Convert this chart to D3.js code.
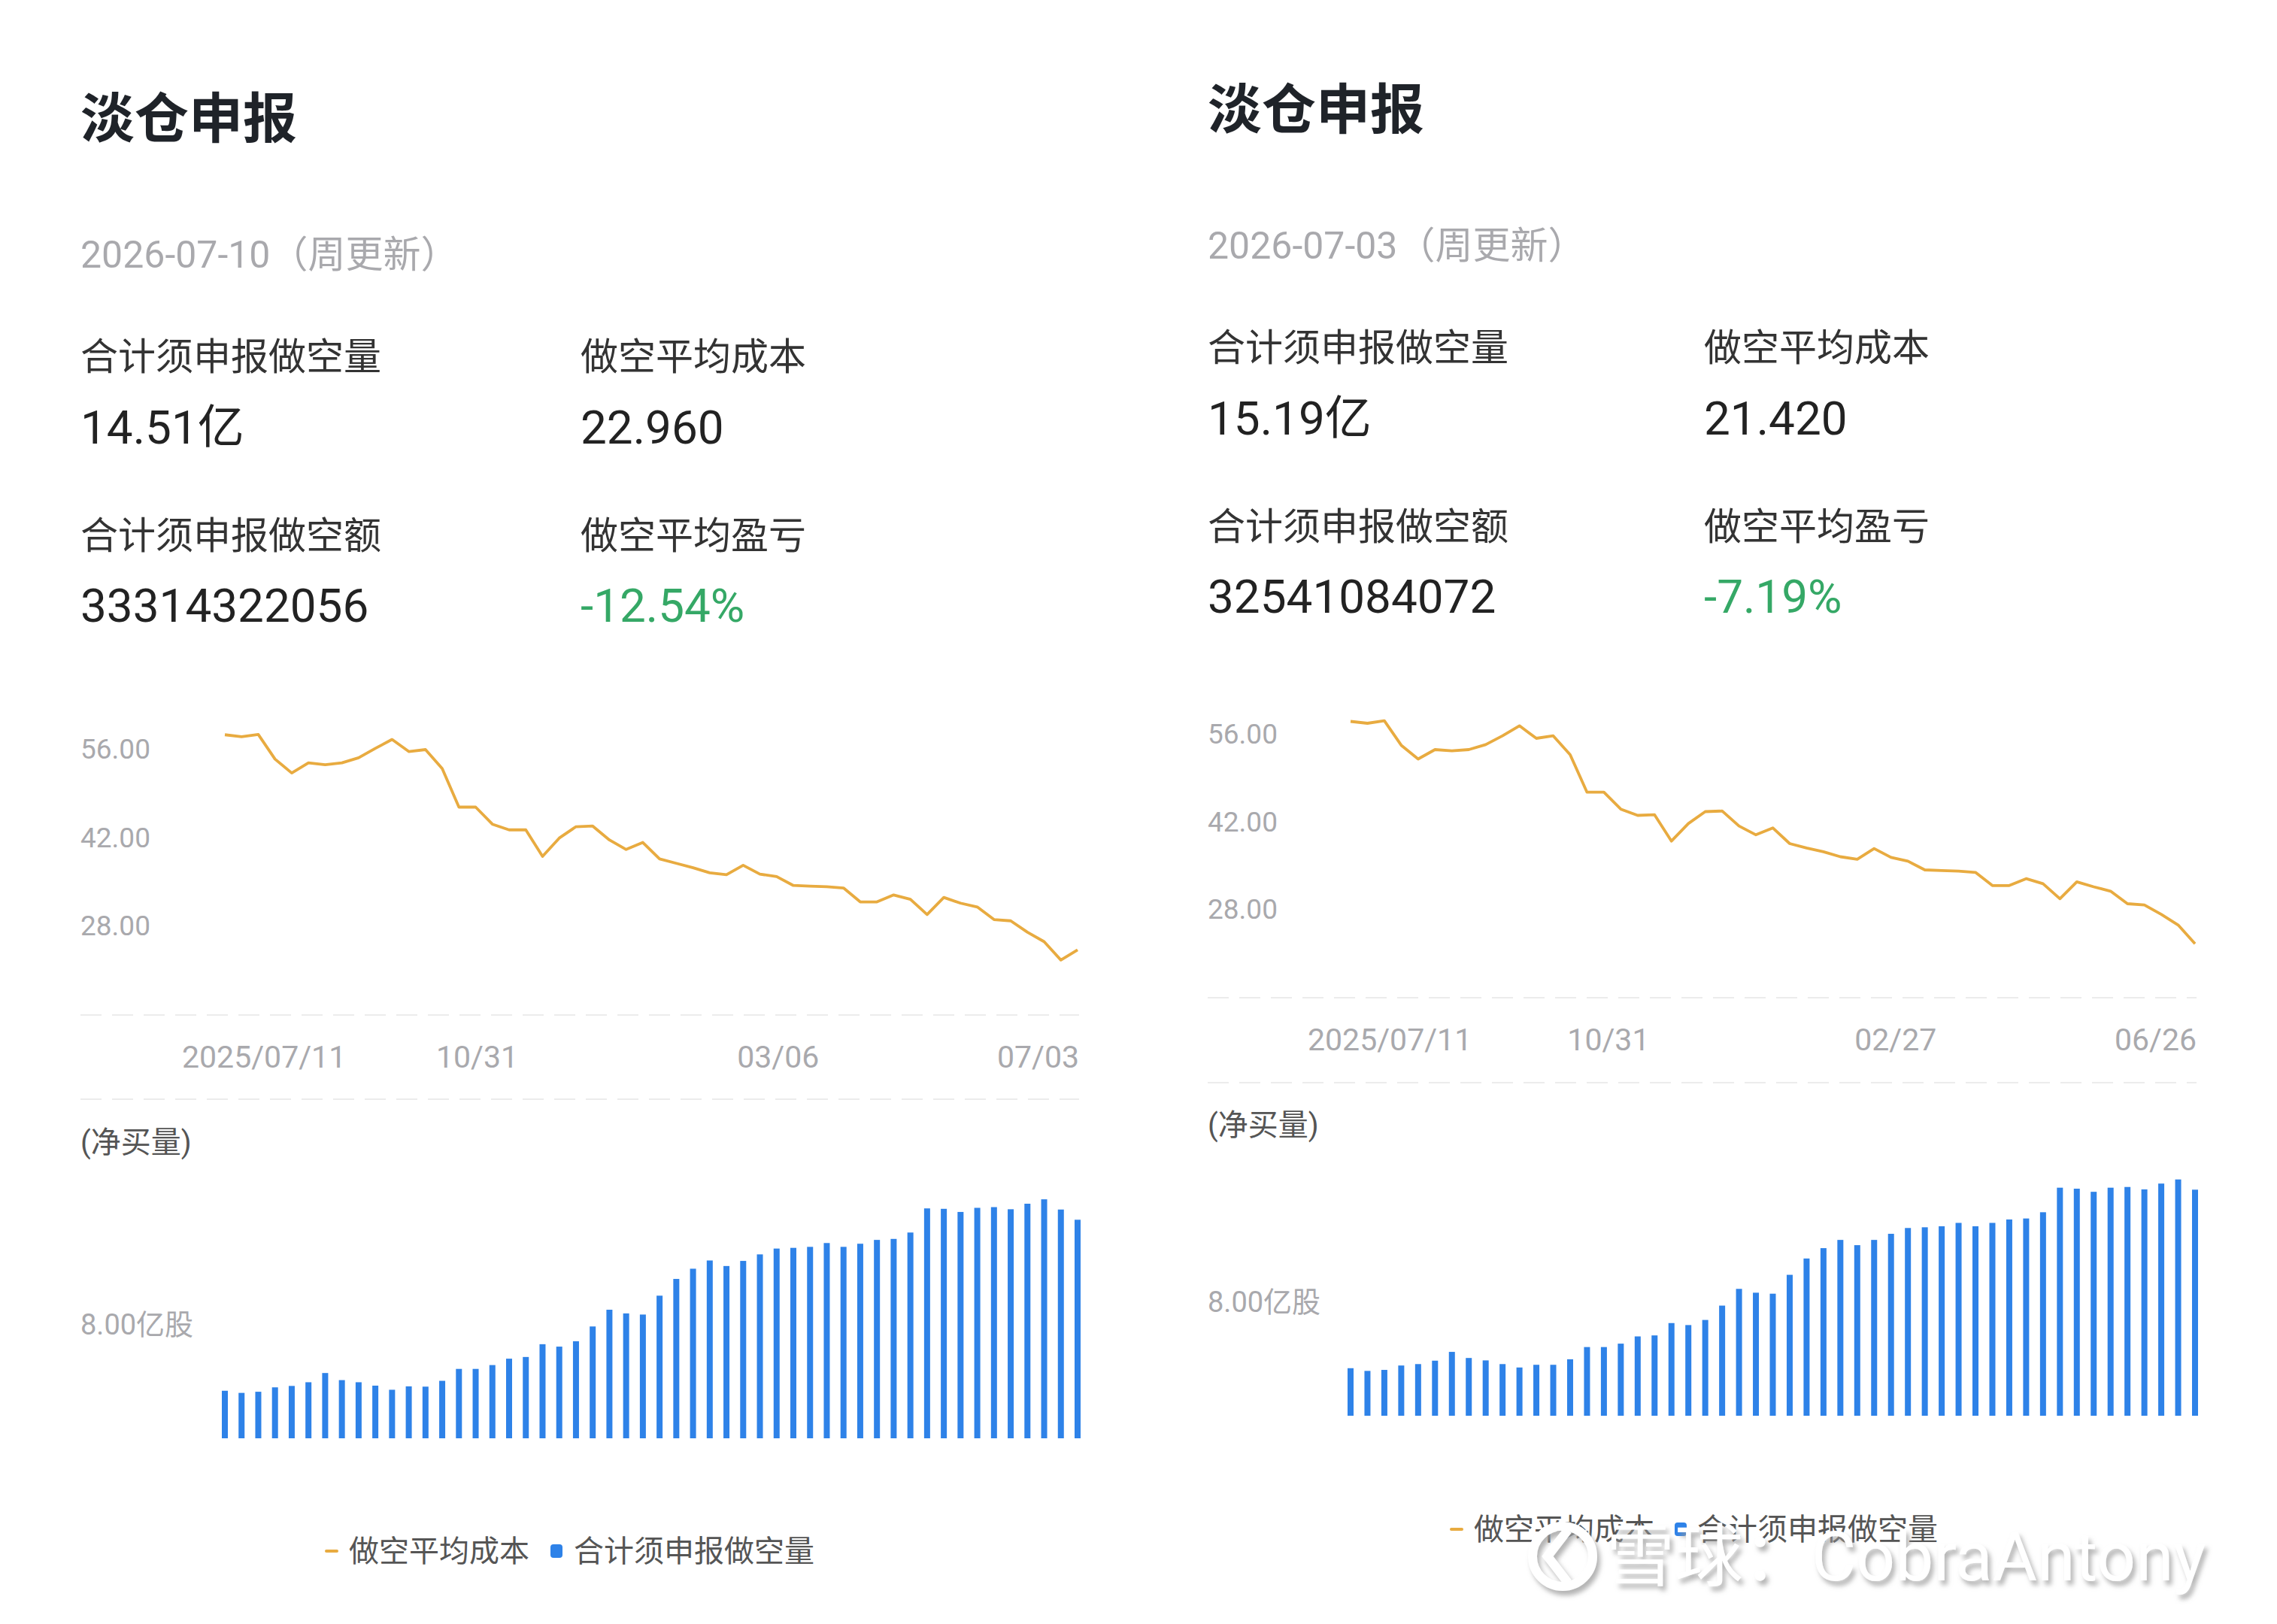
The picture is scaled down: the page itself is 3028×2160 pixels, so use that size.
<!DOCTYPE html>
<html>
<head>
<meta charset="utf-8">
<script src="https://cdn.jsdelivr.net/npm/d3@7"></script>
<style>
  body { margin: 0; background: #fff; }
  text { font-family: Roboto, "Noto Sans CJK SC", sans-serif; }
</style>
</head>
<body>
<script>

// weekly report dates (Fridays)
const weeks = [
  "2025-07-18","2025-07-25","2025-08-01","2025-08-08","2025-08-15","2025-08-22","2025-08-29",
  "2025-09-05","2025-09-12","2025-09-19","2025-09-26","2025-10-03","2025-10-10","2025-10-17",
  "2025-10-24","2025-10-31","2025-11-07","2025-11-14","2025-11-21","2025-11-28","2025-12-05",
  "2025-12-12","2025-12-19","2025-12-26","2026-01-02","2026-01-09","2026-01-16","2026-01-23",
  "2026-01-30","2026-02-06","2026-02-13","2026-02-20","2026-02-27","2026-03-06","2026-03-13",
  "2026-03-20","2026-03-27","2026-04-03","2026-04-10","2026-04-17","2026-04-24","2026-05-01",
  "2026-05-08","2026-05-15","2026-05-22","2026-05-29","2026-06-05","2026-06-12","2026-06-19",
  "2026-06-26","2026-07-03","2026-07-10"
];

// left snapshot (2026-07-10)
const leftCost = [58.35,58.05,58.4,54.5,52.3,53.9,53.6,53.9,54.7,56.2,
  57.6,55.7,56.0,53.0,46.9,46.9,44.2,43.3,43.3,39.1,
  42.0,43.8,43.9,41.7,40.2,41.3,38.7,38.0,37.3,36.5,
  36.2,37.7,36.3,35.9,34.5,34.4,34.3,34.1,31.9,31.9,
  33.0,32.3,29.9,32.6,31.7,31.1,29.1,28.9,27.1,25.6,
  22.7,24.3];
const leftShort = [3.35,3.2,3.28,3.59,3.69,3.95,4.6,4.1,3.95,3.71,
  3.42,3.66,3.64,4.05,4.89,4.89,5.16,5.61,5.73,6.63,
  6.46,6.84,7.88,9.06,8.8,8.72,10.05,11.23,11.95,12.53,
  12.14,12.5,12.96,13.37,13.42,13.49,13.76,13.49,13.71,13.98,
  14.05,14.5,16.2,16.17,15.95,16.24,16.29,16.14,16.53,16.84,
  16.12,15.4];
const leftTicks = [
  {key: "2025-07-18", label: "2025/07/11"},
  {key: "2025-10-31", label: "10/31"},
  {key: "2026-03-06", label: "03/06"},
  {key: "2026-07-03", label: "07/03"}
];
const leftHead = ["2026-07-10（周更新）", "14.51亿", "22.960", "33314322056", "-12.54%"];

// right snapshot (2026-07-03)
const rightCost = [58.1,57.8,58.2,54.3,52.1,53.6,53.4,53.6,54.4,55.8,
  57.4,55.4,55.8,52.8,46.8,46.8,44.1,43.1,43.2,39.0,
  41.8,43.7,43.8,41.4,40.0,41.1,38.6,37.9,37.3,36.5,
  36.1,37.8,36.4,35.8,34.4,34.3,34.2,34.0,31.9,31.9,
  33.0,32.2,29.8,32.5,31.7,31.0,29.0,28.8,27.3,25.6,
  22.6];
const rightShort = [3.35,3.16,3.23,3.54,3.64,3.88,4.5,4.07,3.9,3.64,
  3.4,3.59,3.59,3.98,4.84,4.84,5.08,5.59,5.66,6.53,
  6.39,6.75,7.76,8.94,8.67,8.6,9.93,11.08,11.81,12.39,
  12.02,12.39,12.82,13.23,13.28,13.35,13.59,13.35,13.59,13.83,
  13.9,14.34,16.07,16.0,15.78,16.07,16.12,15.95,16.36,16.65,
  15.93];
const rightTicks = [
  {key: "2025-07-18", label: "2025/07/11"},
  {key: "2025-10-31", label: "10/31"},
  {key: "2026-02-27", label: "02/27"},
  {key: "2026-06-26", label: "06/26"}
];
const rightHead = ["2026-07-03（周更新）", "15.19亿", "21.420", "32541084072", "-7.19%"];

const costTicks = [28, 42, 56];
const shortTick = 8;
const headLabels = ["合计须申报做空量", "做空平均成本", "合计须申报做空额", "做空平均盈亏"];
const legendNames = ["做空平均成本", "合计须申报做空量"];

const W = 3028, H = 2160;
const lineColor = "#e8ab40", barColor = "#2e82e8";

const svg = d3.select("body").append("svg")
  .attr("width", W).attr("height", H);

svg.append("rect").attr("width", W).attr("height", H).attr("fill", "#fff");

function drawPanel(p) {
  const g = svg.append("g");
  const n = p.cost.length;
  const dates = weeks.slice(0, n);

  // header block
  const hy = p.headDy;
  g.append("text").attr("x", p.ox).attr("y", 183 + hy)
    .attr("font-size", 72).attr("font-weight", "bold").attr("fill", "#1f2329")
    .attr("font-family", "'Noto Sans CJK SC', sans-serif")
    .text("淡仓申报");
  g.append("text").attr("x", p.ox).attr("y", 356 + hy)
    .attr("font-size", 50).attr("fill", "#a9a9ad").text(p.head[0]);

  const cols = [p.ox, p.ox + p.col2];
  [[0, 0], [1, 1], [0, 2], [1, 3]].forEach(([c, k], i) => {
    const row = i < 2 ? 0 : 1;
    g.append("text").attr("x", cols[c]).attr("y", (row ? 730 : 492) + hy)
      .attr("font-size", 50).attr("fill", "#333")
      .text(headLabels[k]);
    g.append("text").attr("x", cols[c]).attr("y", (row ? 827 : 590) + hy)
      .attr("font-size", 62)
      .attr("fill", k === 3 ? "#35a866" : "#222")
      .text(p.head[k + 1]);
  });

  // shared x scale for line and bars
  const x = d3.scalePoint().domain(dates).range([p.x0, p.x1]);

  // ---- line chart ----
  const yc = d3.scaleLinear().domain([14, 56]).range([p.cBase, p.c56]);

  g.append("line")
    .attr("x1", p.ox).attr("x2", p.x1 + 2)
    .attr("y1", yc(14)).attr("y2", yc(14))
    .attr("stroke", "#ececec").attr("stroke-width", 2)
    .attr("stroke-dasharray", "28,14");

  g.selectAll(".ylab").data(costTicks).enter().append("text")
    .attr("x", p.ox).attr("y", d => yc(d) + 12)
    .attr("font-size", 37).attr("fill", "#a9a9ad")
    .text(d => d.toFixed(2));

  const line = d3.line()
    .x((d, i) => x(dates[i]))
    .y(d => yc(d));
  g.append("path").datum(p.cost)
    .attr("d", line)
    .attr("fill", "none").attr("stroke", lineColor)
    .attr("stroke-width", 3.8).attr("stroke-linejoin", "round");

  g.selectAll(".xlab").data(p.ticks).enter().append("text")
    .attr("y", p.tickY)
    .attr("font-size", 41).attr("fill", "#a9a9ad")
    .attr("x", (d, i) => i === 0 ? x(d.key) - 57 : (i === p.ticks.length - 1 ? p.x1 + 2 : x(d.key) + p.midShift))
    .attr("text-anchor", (d, i) => i === 0 ? "start" : (i === p.ticks.length - 1 ? "end" : "middle"))
    .text(d => d.label);

  g.append("line")
    .attr("x1", p.ox).attr("x2", p.x1 + 2)
    .attr("y1", p.sepY).attr("y2", p.sepY)
    .attr("stroke", "#ececec").attr("stroke-width", 2)
    .attr("stroke-dasharray", "28,14");

  // ---- bar chart ----
  const yb = d3.scaleLinear().domain([0, 8]).range([p.bBase, p.bBase - 151]);

  g.append("text").attr("x", p.ox).attr("y", p.netY)
    .attr("font-size", 40).attr("fill", "#555")
    .text("(净买量)");
  g.append("text").attr("x", p.ox).attr("y", yb(shortTick) + 13)
    .attr("font-size", 38).attr("fill", "#a9a9ad")
    .text(shortTick.toFixed(2) + "亿股");

  const bw = 8;
  g.selectAll(".bar").data(p.short).enter().append("rect")
    .attr("x", (d, i) => x(dates[i]) - bw / 2)
    .attr("y", d => yb(d))
    .attr("width", bw)
    .attr("height", d => yb(0) - yb(d))
    .attr("fill", barColor);

  // ---- legend ----
  const ly = p.legY;
  g.append("rect").attr("x", p.leg[0]).attr("y", ly - 2).attr("width", 18).attr("height", 4)
    .attr("rx", 2).attr("fill", lineColor);
  g.append("text").attr("x", p.leg[1]).attr("y", ly + 14)
    .attr("font-size", 40).attr("fill", "#555").text(legendNames[0]);
  g.append("rect").attr("x", p.leg[2]).attr("y", ly - 9).attr("width", 16).attr("height", 18)
    .attr("rx", 4).attr("fill", barColor);
  g.append("text").attr("x", p.leg[3]).attr("y", ly + 14)
    .attr("font-size", 40).attr("fill", "#555").text(legendNames[1]);
}

drawPanel({
  ox: 107, col2: 665, headDy: 0, head: leftHead, cost: leftCost, short: leftShort, ticks: leftTicks,
  x0: 299, x1: 1433, cBase: 1350, c56: 997, tickY: 1420, sepY: 1462, midShift: 2,
  bBase: 1913, netY: 1533, legY: 2063, leg: [432, 464, 732, 763]
});
drawPanel({
  ox: 1606, col2: 660, headDy: -12, head: rightHead, cost: rightCost, short: rightShort, ticks: rightTicks,
  x0: 1796, x1: 2919, cBase: 1327, c56: 977, tickY: 1397, sepY: 1440, midShift: 6,
  bBase: 1883, netY: 1510, legY: 2034, leg: [1928, 1960, 2227, 2257]
});

// watermark
const defs = svg.append("defs");
const f = defs.append("filter").attr("id", "wmShadow")
  .attr("x", "-10%").attr("y", "-30%").attr("width", "130%").attr("height", "180%");
f.append("feDropShadow").attr("dx", 4).attr("dy", 6).attr("stdDeviation", 3)
  .attr("flood-color", "#9a9a9a").attr("flood-opacity", 0.75);

const wm = svg.append("g").attr("filter", "url(#wmShadow)");
wm.append("circle").attr("cx", 2078).attr("cy", 2070).attr("r", 40)
  .attr("fill", "none").attr("stroke", "#fff").attr("stroke-width", 12);
wm.append("path").attr("d", "M2085,2035 L2058,2070 L2085,2105")
  .attr("fill", "none").attr("stroke", "#fff").attr("stroke-width", 12);
wm.append("text").attr("x", 2136).attr("y", 2102)
  .attr("font-size", 91).attr("fill", "#fff")
  .text("雪球：CobraAntony");

</script>
</body>
</html>
